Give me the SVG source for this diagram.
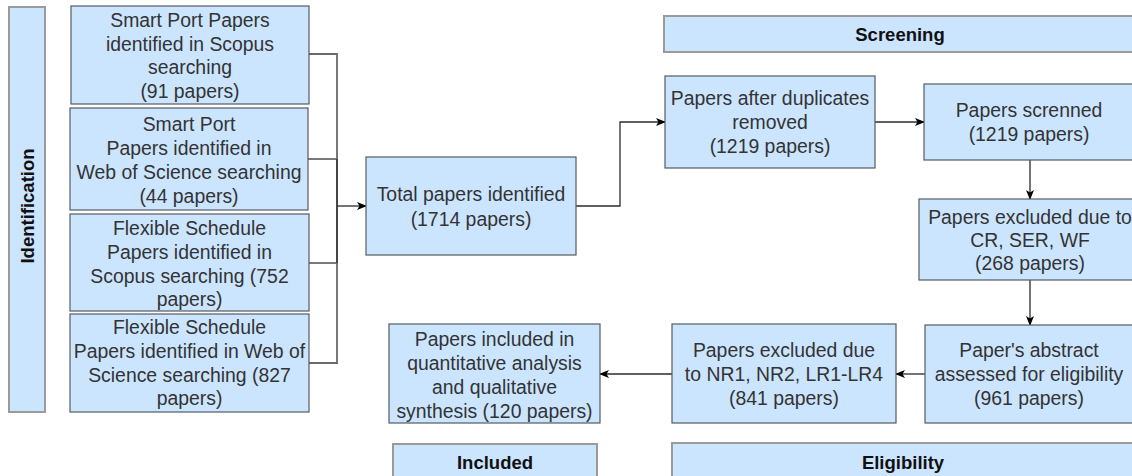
<svg xmlns="http://www.w3.org/2000/svg" width="1132" height="476" viewBox="0 0 1132 476">
  <style>
    .box { fill: #cce5ff; stroke: #555a60; stroke-width: 1.2; }
    .hdr { fill: #cce5ff; stroke: #9a9a9a; stroke-width: 2; }
    .t { font-family: "Liberation Sans", Arial, sans-serif; font-size: 19.4px; fill: #333333; text-anchor: middle; }
    .h { font-family: "Liberation Sans", Arial, sans-serif; font-size: 18.5px; font-weight: bold; fill: #111111; text-anchor: middle; }
    .link { fill: none; stroke: #2b2b2b; stroke-width: 1.3; }
    .brk { fill: none; stroke: #6a6a6a; stroke-width: 1.8; }
  </style>
  <defs>
    <marker id="arrow" viewBox="0 0 10 8" refX="9" refY="4" markerWidth="10" markerHeight="8" markerUnits="userSpaceOnUse" orient="auto">
      <path d="M0,0 L10,4 L0,8 L2.5,4 z" fill="#000000"/>
    </marker>
  </defs>

  <rect width="1132" height="476" fill="#ffffff"/>

  <!-- phase headers -->
  <g id="hdr-identification">
    <rect class="hdr" x="9" y="7" width="36" height="405"/>
    <text class="h" transform="translate(33.5,206) rotate(-90)" x="0" y="0">Identification</text>
  </g>
  <g id="hdr-screening">
    <rect class="hdr" x="664" y="16" width="474" height="36"/>
    <text class="h" x="900" y="40.5">Screening</text>
  </g>
  <g id="hdr-included">
    <rect class="hdr" x="393" y="444" width="204" height="40"/>
    <text class="h" x="495" y="468.5">Included</text>
  </g>
  <g id="hdr-eligibility">
    <rect class="hdr" x="672" y="443" width="464" height="40"/>
    <text class="h" x="903" y="468.5">Eligibility</text>
  </g>

  <!-- connectors -->
  <g id="connectors">
    <path class="brk" d="M309,54 H337 V363 H309"/>
    <path class="brk" d="M308,159 H337"/>
    <path class="brk" d="M309,263 H337"/>
    <path class="link" d="M337,159 V263"/>
    <path class="link" d="M337,206 H366" marker-end="url(#arrow)"/>
    <path class="link" d="M576,206 H620 V122 H665" marker-end="url(#arrow)"/>
    <path class="link" d="M875,122 H924" marker-end="url(#arrow)"/>
    <path class="link" d="M1030,160 V199" marker-end="url(#arrow)"/>
    <path class="link" d="M1030,280 V325" marker-end="url(#arrow)"/>
    <path class="link" d="M925,374 H896" marker-end="url(#arrow)"/>
    <path class="link" d="M672,374 H600" marker-end="url(#arrow)"/>
  </g>

  <!-- source boxes -->
  <g id="scopus-smart-port">
    <rect class="box" x="71" y="6" width="238" height="98"/>
    <text class="t" x="190" y="27">Smart Port Papers</text>
    <text class="t" x="190" y="50.5">identified in Scopus</text>
    <text class="t" x="190" y="74">searching</text>
    <text class="t" x="190" y="97.5">(91 papers)</text>
  </g>
  <g id="wos-smart-port">
    <rect class="box" x="70" y="108" width="238" height="102"/>
    <text class="t" x="189" y="131">Smart Port</text>
    <text class="t" x="189" y="155">Papers identified in</text>
    <text class="t" x="189" y="179">Web of Science searching</text>
    <text class="t" x="189" y="203">(44 papers)</text>
  </g>
  <g id="scopus-flexible">
    <rect class="box" x="70" y="214" width="239" height="97"/>
    <text class="t" x="189.5" y="234.5">Flexible Schedule</text>
    <text class="t" x="189.5" y="258.5">Papers identified in</text>
    <text class="t" x="189.5" y="282.5">Scopus searching (752</text>
    <text class="t" x="189.5" y="306">papers)</text>
  </g>
  <g id="wos-flexible">
    <rect class="box" x="70" y="314" width="239" height="98"/>
    <text class="t" x="189.5" y="333.5">Flexible Schedule</text>
    <text class="t" x="189.5" y="358">Papers identified in Web of</text>
    <text class="t" x="189.5" y="381.5">Science searching (827</text>
    <text class="t" x="189.5" y="405">papers)</text>
  </g>

  <!-- flow boxes -->
  <g id="total">
    <rect class="box" x="366" y="157" width="210" height="98"/>
    <text class="t" x="471" y="201">Total papers identified</text>
    <text class="t" x="471" y="226">(1714 papers)</text>
  </g>
  <g id="deduplicated">
    <rect class="box" x="665" y="76" width="210" height="92"/>
    <text class="t" x="770" y="104.5">Papers after duplicates</text>
    <text class="t" x="770" y="128.5">removed</text>
    <text class="t" x="770" y="153">(1219 papers)</text>
  </g>
  <g id="screened">
    <rect class="box" x="924" y="84" width="212" height="76"/>
    <text class="t" x="1029" y="116.5">Papers screnned</text>
    <text class="t" x="1029" y="141">(1219 papers)</text>
  </g>
  <g id="excluded-cr">
    <rect class="box" x="919" y="199" width="220" height="81"/>
    <text class="t" x="1030" y="223.5">Papers excluded due to</text>
    <text class="t" x="1030" y="246.5">CR, SER, WF</text>
    <text class="t" x="1030" y="269.5">(268 papers)</text>
  </g>
  <g id="abstract">
    <rect class="box" x="925" y="325" width="212" height="98"/>
    <text class="t" x="1029" y="356.5">Paper's abstract</text>
    <text class="t" x="1029" y="380.5">assessed for eligibility</text>
    <text class="t" x="1029" y="404.5">(961 papers)</text>
  </g>
  <g id="excluded-nr">
    <rect class="box" x="672" y="324" width="224" height="99"/>
    <text class="t" x="784" y="356.5">Papers excluded due</text>
    <text class="t" x="784" y="380.5">to NR1, NR2, LR1-LR4</text>
    <text class="t" x="784" y="404.5">(841 papers)</text>
  </g>
  <g id="included">
    <rect class="box" x="389" y="324" width="211" height="99"/>
    <text class="t" x="494.5" y="345.5">Papers included in</text>
    <text class="t" x="494.5" y="369.5">quantitative analysis</text>
    <text class="t" x="494.5" y="393.5">and qualitative</text>
    <text class="t" x="494.5" y="417.5">synthesis (120 papers)</text>
  </g>
</svg>
